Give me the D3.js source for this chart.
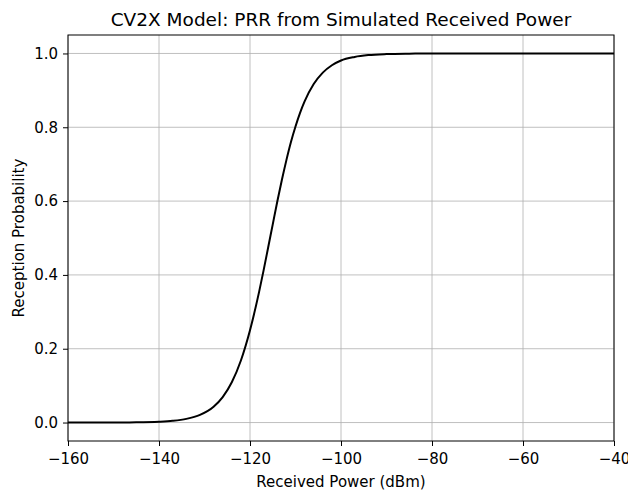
<!DOCTYPE html>
<html><head><meta charset="utf-8">
<script src="https://cdn.jsdelivr.net/npm/d3@7"></script>
<style>body{margin:0;background:#fff}svg text{font-family:"DejaVu Sans",sans-serif}</style>
</head><body>
<script>
const powerDbm = [-160,-150,-145,-140,-137,-134,-131,-128,-126,-124,-122,-120,-118,-117,-116,-115,-114,-113,-112,-111,-110,-109,-108,-106,-104,-102,-100,-97,-94,-90,-85,-80,-60,-40];
const prr = [0.0,0.0002,0.0006,0.0022,0.0047,0.0099,0.0208,0.043,0.069,0.109,0.168,0.25,0.354,0.413,0.475,0.537,0.599,0.657,0.711,0.760,0.802,0.839,0.870,0.917,0.948,0.968,0.981,0.9905,0.9955,0.9983,0.9995,0.9999,1.0,1.0];
const xTicks = [-160,-140,-120,-100,-80,-60,-40];
const yTicks = [0.0,0.2,0.4,0.6,0.8,1.0];

const W=628,H=490, m={l:68,r:14,t:35,b:49};
const svg=d3.select("body").append("svg").attr("width",W).attr("height",H);
const x=d3.scaleLinear().domain([-160,-40]).range([m.l,W-m.r]);
const y=d3.scaleLinear().domain([-0.05,1.05]).range([H-m.b,m.t]);

// grid
svg.append("g").selectAll("line").data(xTicks).join("line")
  .attr("x1",d=>x(d)).attr("x2",d=>x(d)).attr("y1",m.t).attr("y2",H-m.b)
  .attr("stroke","#b0b0b0").attr("stroke-width",0.8);
svg.append("g").selectAll("line").data(yTicks).join("line")
  .attr("y1",d=>y(d)).attr("y2",d=>y(d)).attr("x1",m.l).attr("x2",W-m.r)
  .attr("stroke","#b0b0b0").attr("stroke-width",0.8);

// line
const pts=powerDbm.map((p,i)=>[p,prr[i]]);
svg.append("path").datum(pts)
  .attr("d",d3.line().x(d=>x(d[0])).y(d=>y(d[1])).curve(d3.curveMonotoneX))
  .attr("fill","none").attr("stroke","#000").attr("stroke-width",2);

// axes
const fmtX=d=>(d<0?"\u2212":"")+Math.abs(d);
const gx=svg.append("g").attr("transform",`translate(0,${H-m.b})`)
  .call(d3.axisBottom(x).tickValues(xTicks).tickFormat(fmtX).tickSize(5).tickPadding(7).tickSizeOuter(0));
const gy=svg.append("g").attr("transform",`translate(${m.l},0)`)
  .call(d3.axisLeft(y).tickValues(yTicks).tickFormat(d3.format(".1f")).tickSize(5).tickPadding(5).tickSizeOuter(0));
[gx,gy].forEach(g=>{g.select(".domain").remove();
  g.selectAll("text").attr("font-size",15).attr("fill","#000").attr("font-family","DejaVu Sans");
  g.selectAll("line").attr("stroke","#000").attr("stroke-width",1);});

// spines
svg.append("rect").attr("x",m.l).attr("y",m.t).attr("width",W-m.l-m.r).attr("height",H-m.t-m.b)
  .attr("fill","none").attr("stroke","#000").attr("stroke-width",1);

// labels
svg.append("text").attr("x",(m.l+W-m.r)/2).attr("y",26).attr("text-anchor","middle")
  .attr("font-size",18.5).text("CV2X Model: PRR from Simulated Received Power");
svg.append("text").attr("x",(m.l+W-m.r)/2).attr("y",487).attr("text-anchor","middle")
  .attr("font-size",15).text("Received Power (dBm)");
svg.append("text").attr("transform",`translate(24,${(m.t+H-m.b)/2}) rotate(-90)`).attr("text-anchor","middle")
  .attr("font-size",15).text("Reception Probability");
</script>
</body></html>
